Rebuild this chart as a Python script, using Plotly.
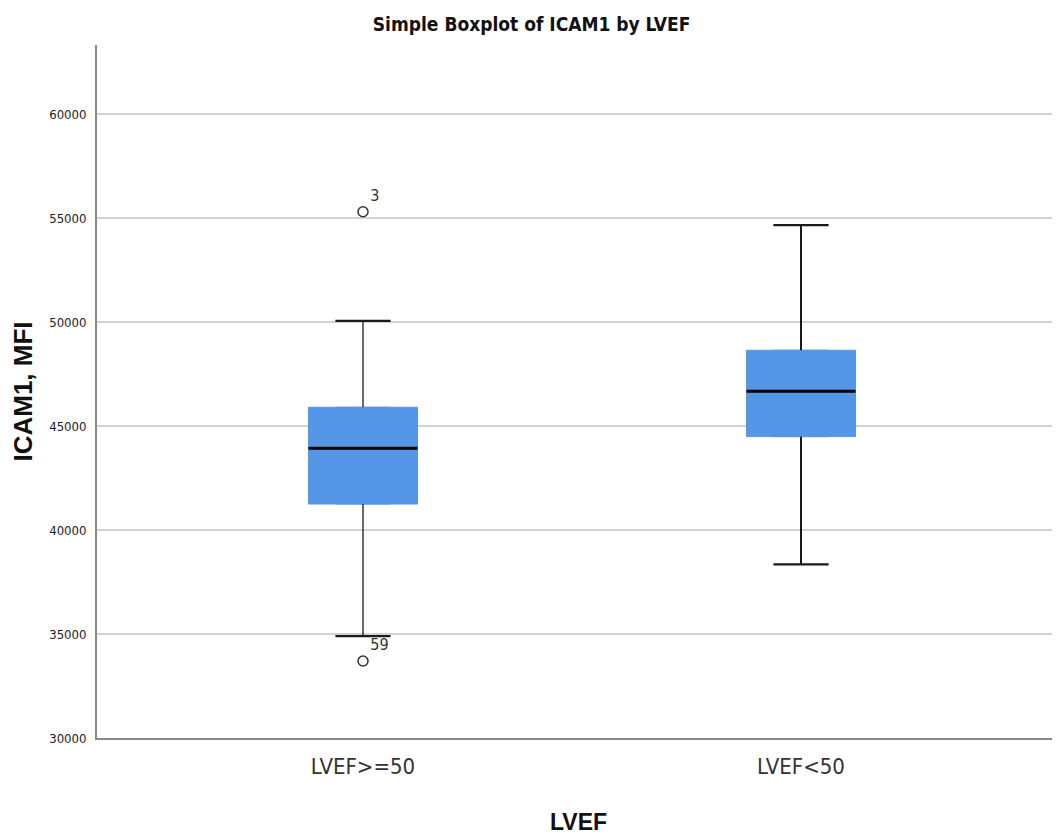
import plotly.graph_objects as go

categories = ["LVEF>=50", "LVEF<50"]
q1 = [41250, 44490]
median = [43930, 46670]
q3 = [45900, 48640]
lower_whisker = [34900, 38350]
upper_whisker = [50050, 54660]
outlier_group = [0, 0]
outlier_values = [55300, 33700]
outlier_labels = ["3", "59"]
y_ticks = [30000, 35000, 40000, 45000, 50000, 55000, 60000]

NARROW = "Liberation Sans Narrow, Arial Narrow, DejaVu Sans Condensed, sans-serif"
BOLD = "Liberation Sans, Arial, sans-serif"
BLUE = "#5596E6"
box_w = 0.249
cap_half = 0.063
whisker_w = [1.3, 2]

fig = go.Figure()
xs = list(range(len(categories)))
for i in xs:
    fig.add_trace(go.Box(
        x=[i], q1=[q1[i]], median=[median[i]], q3=[q3[i]],
        lowerfence=[q1[i]], upperfence=[q3[i]],
        width=box_w, fillcolor=BLUE, line=dict(color=BLUE, width=1),
        boxpoints=False, showlegend=False, hoverinfo="skip"))
    # whiskers
    fig.add_trace(go.Scatter(x=[i, i], y=[q3[i], upper_whisker[i]], mode="lines",
                             line=dict(color="#1a1a1a", width=whisker_w[i]), showlegend=False))
    fig.add_trace(go.Scatter(x=[i, i], y=[q1[i], lower_whisker[i]], mode="lines",
                             line=dict(color="#1a1a1a", width=whisker_w[i]), showlegend=False))
    # caps
    for v in (upper_whisker[i], lower_whisker[i]):
        fig.add_trace(go.Scatter(x=[i - cap_half, i + cap_half], y=[v, v], mode="lines",
                                 line=dict(color="#1a1a1a", width=2.2), showlegend=False))
    # median
    fig.add_trace(go.Scatter(x=[i - box_w / 2, i + box_w / 2], y=[median[i], median[i]], mode="lines",
                             line=dict(color="black", width=3), showlegend=False))

fig.add_trace(go.Scatter(
    x=outlier_group, y=outlier_values, mode="markers+text",
    marker=dict(symbol="circle-open", size=10, color="#333333", line=dict(width=1.5)),
    text=outlier_labels, textposition="top right",
    textfont=dict(family=NARROW, size=16, color="#333333"), showlegend=False))

fig.update_layout(
    width=1060, height=837,
    margin=dict(l=89, r=8, t=37, b=107),
    paper_bgcolor="white", plot_bgcolor="white",
    title=dict(text="<b>Simple Boxplot of ICAM1 by LVEF</b>", x=0.494, xanchor="center",
               y=0.98, yanchor="middle",
               font=dict(family=NARROW, size=19, color="#111111")),
    xaxis=dict(range=[-0.6073, 1.5913], tickvals=xs, ticktext=categories,
               showgrid=False, zeroline=False, showline=True, linecolor="#888888", linewidth=2,
               ticklabelstandoff=8,
               tickfont=dict(family=NARROW, size=22, color="#333333"),
               title=dict(text="<b>LVEF</b>", font=dict(family=BOLD, size=23, color="#111111"), standoff=35)),
    yaxis=dict(range=[30000, 63317], tickvals=y_ticks, ticktext=[str(v) for v in y_ticks],
               showgrid=True, gridcolor="#D3D3D3", gridwidth=2, zeroline=False,
               showline=True, linecolor="#888888", linewidth=2,
               ticklabelstandoff=6,
               tickfont=dict(family=NARROW, size=13, color="#222222"),
               title=dict(text="<b>ICAM1, MFI</b>", font=dict(family=BOLD, size=26, color="#111111"), standoff=10)),
)

fig.write_html("out.html")
